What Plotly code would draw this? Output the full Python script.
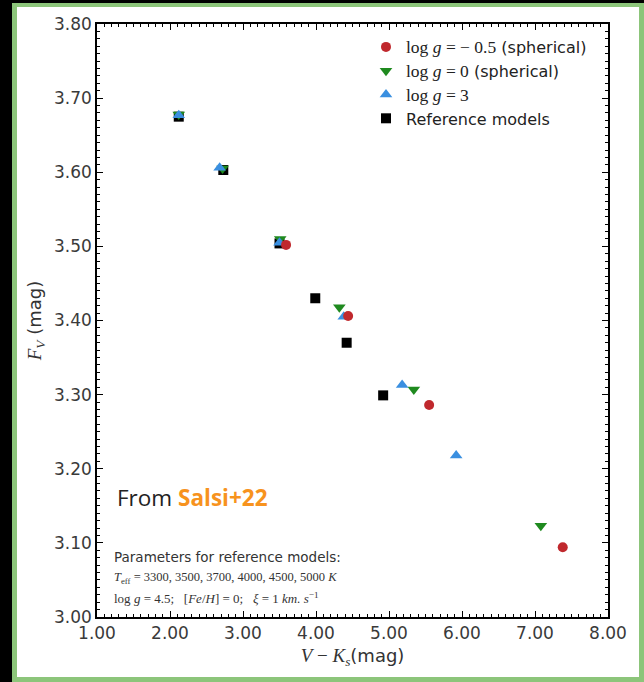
import plotly.graph_objects as go

# ---- data ----
red_x = [3.59, 4.44, 5.55, 7.38]
red_y = [3.502, 3.406, 3.286, 3.094]
green_x = [2.12, 2.72, 3.51, 4.32, 5.34, 7.08]
green_y = [3.678, 3.605, 3.510, 3.418, 3.307, 3.123]
blue_x = [2.12, 2.68, 3.50, 4.38, 5.18, 5.92]
blue_y = [3.677, 3.606, 3.505, 3.405, 3.313, 3.218]
ref_x = [2.12, 2.73, 3.50, 3.99, 4.42, 4.92]
ref_y = [3.675, 3.603, 3.504, 3.430, 3.370, 3.299]

x_ticks = [1, 2, 3, 4, 5, 6, 7, 8]
y_ticks = [3.0, 3.1, 3.2, 3.3, 3.4, 3.5, 3.6, 3.7, 3.8]

SERIF = "Liberation Serif"
SANS = "DejaVu Sans"

def m(s, size=None):
    st = f"font-family:{SERIF}"
    if size:
        st += f";font-size:{size}px"
    return f'<span style="{st}">{s}</span>'

W, H = 644, 682
L, R, T, B = 97, 36, 24, 65
PW, PH = W - L - R, H - T - B

def px(x):
    return (x - L) / PW

def py(y):
    return (H - B - y) / PH

fig = go.Figure()
fig.add_trace(go.Scatter(x=ref_x, y=ref_y, mode="markers", name="Reference models", legendrank=4,
                         marker=dict(symbol="square", size=10, color="#000000")))
fig.add_trace(go.Scatter(x=green_x, y=green_y, mode="markers",
                         name=m("log <i>g</i> = 0", 17.5) + " (spherical)", legendrank=2,
                         marker=dict(symbol="triangle-down", size=11, color="#1f8a1f")))
fig.add_trace(go.Scatter(x=blue_x, y=blue_y, mode="markers",
                         name=m("log <i>g</i> = 3", 17.5), legendrank=3,
                         marker=dict(symbol="triangle-up", size=11, color="#3a8fe0")))
fig.add_trace(go.Scatter(x=red_x, y=red_y, mode="markers",
                         name=m("log <i>g</i> = − 0.5", 17.5) + " (spherical)", legendrank=1,
                         marker=dict(symbol="circle", size=10, color="#c0282d")))

# frame: green border with white interior
fig.add_shape(type="rect", xref="paper", yref="paper", layer="below",
              x0=px(12), x1=px(644), y0=py(682), y1=py(3),
              fillcolor="#8cc57a", line=dict(width=0))
fig.add_shape(type="rect", xref="paper", yref="paper", layer="below",
              x0=px(17), x1=px(639), y0=py(677), y1=py(7),
              fillcolor="#ffffff", line=dict(width=0))

axis_common = dict(
    showgrid=False, zeroline=False, showline=True, linecolor="#000", linewidth=1.5,
    mirror="ticks", ticks="inside", ticklen=6, tickwidth=1.2, tickcolor="#000",
    tickfont=dict(family=SANS, size=17, color="#3a3a3a"), tickformat=".2f",
    minor=dict(ticks="inside", ticklen=3, tickwidth=1, tickcolor="#000"),
)

fig.update_xaxes(range=[1, 8], tickvals=x_ticks, **axis_common)
fig.update_xaxes(minor_dtick=0.1,
                 title=dict(text=m("<i>V</i> − <i>K</i><sub><i>s</i></sub>", 19) + "(mag)",
                            font=dict(family=SANS, size=18, color="#333"), standoff=7))
fig.update_yaxes(range=[3.0, 3.8], tickvals=y_ticks, **axis_common)
fig.update_yaxes(minor_dtick=0.01,
                 title=dict(text=m("<i>F</i><sub><i>V</i></sub>", 19) + " (mag)",
                            font=dict(family=SANS, size=18, color="#333"), standoff=8))

fig.add_annotation(xref="paper", yref="paper", x=px(115), y=py(497), xanchor="left", yanchor="middle",
                   text='From <b><span style="color:#f7931e">Salsi+22</span></b>',
                   showarrow=False, font=dict(family="Open Sans", size=22.5, color="#222"))
fig.add_annotation(xref="paper", yref="paper", x=px(112), y=py(557), xanchor="left", yanchor="middle",
                   text="Parameters for reference models:", showarrow=False,
                   font=dict(family=SANS, size=13.5, color="#333"))
fig.add_annotation(xref="paper", yref="paper", x=px(112), y=py(578), xanchor="left", yanchor="middle",
                   text="<i>T</i><sub>eff</sub> = 3300, 3500, 3700, 4000, 4500, 5000 <i>K</i>",
                   showarrow=False, font=dict(family=SERIF, size=12.5, color="#333"))
fig.add_annotation(xref="paper", yref="paper", x=px(112), y=py(598), xanchor="left", yanchor="middle",
                   text="log <i>g</i> = 4.5;   [<i>Fe</i>/<i>H</i>] = 0;   <i>ξ</i> = 1 <i>km. s</i><sup>−1</sup>",
                   showarrow=False, font=dict(family=SERIF, size=13, color="#333"))

fig.update_layout(
    width=W, height=H, margin=dict(l=L, r=R, t=T, b=B, autoexpand=False),
    paper_bgcolor="#000000", plot_bgcolor="rgba(0,0,0,0)",
    showlegend=True,
    legend=dict(x=px(366), y=py(30), xanchor="left", yanchor="top",
                bgcolor="rgba(0,0,0,0)", font=dict(family=SANS, size=16, color="#222"),
                itemwidth=30),
)

fig.write_html("out.html")
